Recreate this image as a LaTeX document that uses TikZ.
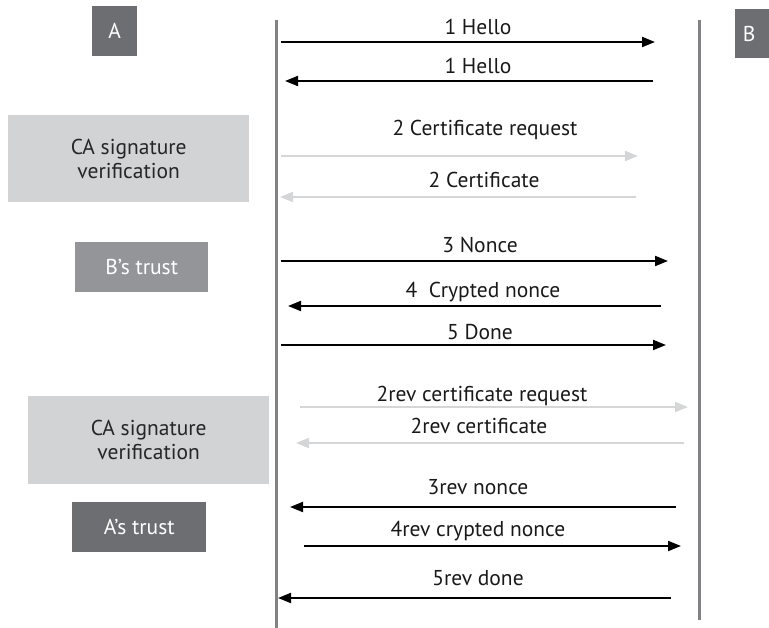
\documentclass[tikz,border=0pt]{standalone}
\usepackage{fontspec}
\setmainfont{PT Sans}
\usetikzlibrary{arrows.meta}
\definecolor{darkbox}{HTML}{6D6E71}
\definecolor{midbox}{HTML}{939598}
\definecolor{lightbox}{HTML}{D1D3D4}
\definecolor{lifegray}{HTML}{808285}
\definecolor{lightarrow}{HTML}{D5D6D7}
\tikzset{
  every node/.style={font=\fontsize{21.5}{24}\selectfont},
  boxnode/.style={draw=none, anchor=north west, inner sep=0pt, align=center},
  lifeline/.style={draw=lifegray, line width=3pt},
  msg/.style={line width=2pt, -{Triangle[length=13pt,width=10pt]}},
  lightmsg/.style={msg, draw=lightarrow, color=lightarrow},
  lbl/.style={inner sep=0pt, text=black!90},
}
\begin{document}
\begin{tikzpicture}[x=1pt,y=-1pt]
\useasboundingbox (0,0) rectangle (769,628);
% boxes
\node[boxnode, fill=darkbox, minimum width=45pt, minimum height=50pt, text=white] (A) at (92,6) {A};
\node[boxnode, fill=darkbox, minimum width=40pt, minimum height=49pt, text=white] (B) at (735,9) {\hspace*{-12pt}B};
\node[boxnode, fill=lightbox, minimum width=241pt, minimum height=87pt, text=black!85] (ca1) at (8,115) {CA signature\\verification};
\node[boxnode, fill=midbox, minimum width=133pt, minimum height=50pt, text=white] (bt) at (75,242) {B’s trust};
\node[boxnode, fill=lightbox, minimum width=241pt, minimum height=88pt, text=black!85] (ca2) at (28,396) {CA signature\\verification};
\node[boxnode, fill=darkbox, minimum width=134pt, minimum height=50pt, text=white] (at) at (72,502) {A’s trust};
% lifelines
\coordinate (lt) at (276,20); \coordinate (lb) at (276,628);
\coordinate (rt) at (699,20); \coordinate (rb) at (699,620);
\draw[lifeline] (lt) -- (lb);
\draw[lifeline] (rt) -- (rb);
% message endpoints
\coordinate (m1a) at (281,42);  \coordinate (m1b) at (655,42);
\coordinate (m2a) at (653,81);  \coordinate (m2b) at (285,81);
\coordinate (m3a) at (281,156); \coordinate (m3b) at (638,156);
\coordinate (m4a) at (636,197); \coordinate (m4b) at (280,197);
\coordinate (m5a) at (281,261); \coordinate (m5b) at (668,261);
\coordinate (m6a) at (661,306); \coordinate (m6b) at (288,306);
\coordinate (m7a) at (281,345); \coordinate (m7b) at (666,345);
\coordinate (m8a) at (300,407); \coordinate (m8b) at (688,407);
\coordinate (m9a) at (684,443); \coordinate (m9b) at (296,443);
\coordinate (m10a) at (676,507); \coordinate (m10b) at (290,507);
\coordinate (m11a) at (304,546); \coordinate (m11b) at (681,546);
\coordinate (m12a) at (671,598); \coordinate (m12b) at (278,598);
\draw[msg] (m1a) -- (m1b);
\draw[msg] (m2a) -- (m2b);
\draw[lightmsg] (m3a) -- (m3b);
\draw[lightmsg] (m4a) -- (m4b);
\draw[msg] (m5a) -- (m5b);
\draw[msg] (m6a) -- (m6b);
\draw[msg] (m7a) -- (m7b);
\draw[lightmsg] (m8a) -- (m8b);
\draw[lightmsg] (m9a) -- (m9b);
\draw[msg] (m10a) -- (m10b);
\draw[msg] (m11a) -- (m11b);
\draw[msg] (m12a) -- (m12b);
% labels
\node[lbl] (l1) at (478,27) {1 Hello};
\node[lbl] (l2) at (478,66) {1 Hello};
\node[lbl] (l3) at (485,130) {2 Certificate request};
\node[lbl] (l4) at (484,180) {2 Certificate};
\node[lbl] (l5) at (480,245) {3 Nonce};
\node[lbl] (l6) at (483,292) {4\ \ Crypted nonce};
\node[lbl] (l7) at (480,332) {5 Done};
\node[lbl] (l8) at (482,396) {2rev certificate request};
\node[lbl] (l9) at (479,426) {2rev certificate};
\node[lbl] (l10) at (478,487) {3rev nonce};
\node[lbl] (l11) at (478,531) {4rev crypted nonce};
\node[lbl] (l12) at (478,578) {5rev done};
\end{tikzpicture}
\end{document}
